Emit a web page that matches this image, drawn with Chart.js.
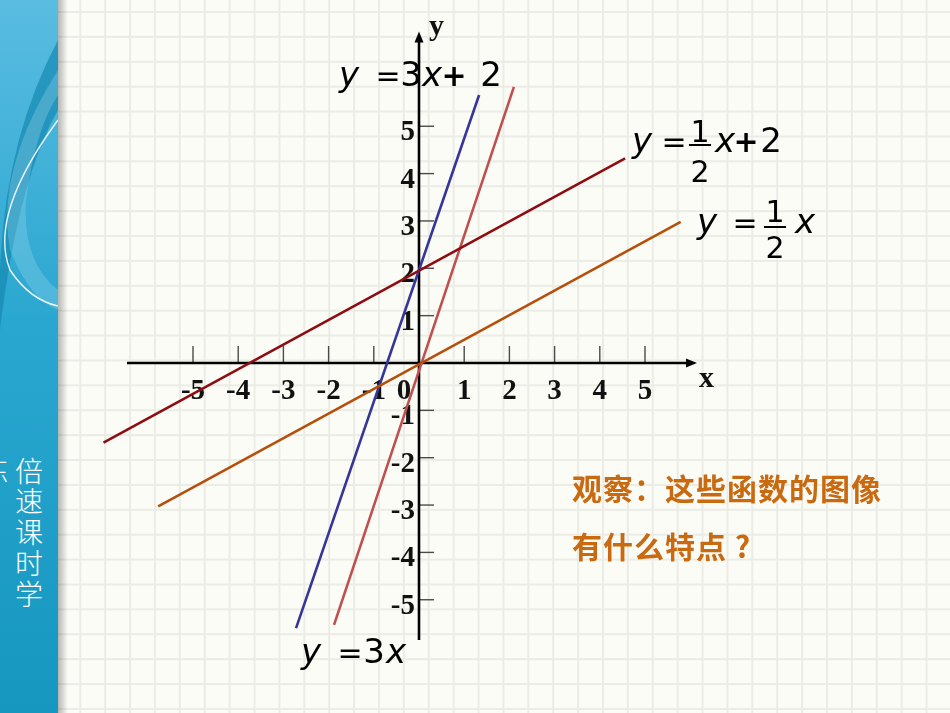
<!DOCTYPE html>
<html>
<head>
<meta charset="utf-8">
<script src="https://cdn.jsdelivr.net/npm/chart.js@4"></script>
<style>
  html, body { margin: 0; padding: 0; }
  body {
    width: 950px; height: 713px; overflow: hidden; position: relative;
    background-color: #fcfcf7;
    background-image:
      linear-gradient(to right, #ececE7 1.5px, transparent 1.5px),
      linear-gradient(to bottom, #ececE7 1.5px, transparent 1.5px);
    background-size: 24.9px 24.9px;
    background-position: 79.3px 11px;
  }
  #painel { position: absolute; left: 0; top: 0; }
  .vertical {
    position: absolute; writing-mode: vertical-rl; color: #fff;
    font-family: "Noto Sans CJK SC"; font-weight: 300; font-size: 28px;
    line-height: 30px; letter-spacing: 2.8px;
  }
  #grafico { position: absolute; left: 0; top: 0; }
  .pergunta {
    position: absolute; left: 572px; color: #ca6a10;
    font-family: "Noto Sans CJK SC"; font-weight: bold; font-size: 30px;
    line-height: 30px; white-space: nowrap; letter-spacing: 1px;
  }
</style>
</head>
<body>
<svg id="painel" width="70" height="713">
  <defs>
    <linearGradient id="gAzul" x1="0" y1="0" x2="0" y2="1">
      <stop offset="0" stop-color="#5abce1"/>
      <stop offset="0.45" stop-color="#2aa7d0"/>
      <stop offset="1" stop-color="#1597bf"/>
    </linearGradient>
    <linearGradient id="gSombra" x1="0" y1="0" x2="1" y2="0">
      <stop offset="0" stop-color="#000" stop-opacity="0.28"/>
      <stop offset="1" stop-color="#000" stop-opacity="0"/>
    </linearGradient>
  </defs>
  <rect x="0" y="0" width="58" height="713" fill="url(#gAzul)"/>
  <path d="M58 40 Q5 140 0 270 L0 330 Q18 180 58 110 Z" fill="#1689b2" opacity="0.7"/>
  <path d="M58 70 Q-5 170 10 250 Q30 300 58 310 L58 290 Q22 262 26 200 Q35 130 58 95 Z" fill="#9fd9ee" opacity="0.3"/>
  <path d="M58 120 Q-12 215 10 270 Q30 300 58 306" fill="none" stroke="#fff" stroke-width="1.4" opacity="0.9"/>
  <rect x="58" y="0" width="10" height="713" fill="url(#gSombra)"/>
</svg>
<div class="vertical" style="left:-21px; top:457px;">练</div>
<div class="vertical" style="left:14px; top:457px;">倍速课时学</div>

<canvas id="grafico" width="950" height="713"></canvas>

<div class="pergunta" style="top:472px;">观察：这些函数的图像</div>
<div class="pergunta" style="top:530px;">有什么特点 ?</div>

<script>
// --- DADOS ---
const xTicks = [-5, -4, -3, -2, -1, 1, 2, 3, 4, 5];
const yTicks = [-5, -4, -3, -2, -1, 1, 2, 3, 4, 5];

// endpoints (x, y in axis units)
const retaAzulX = [-2.72, 1.33];      // y = 3x + 2
const retaAzulY = [-5.60, 5.66];
const retaVermelhaX = [-1.88, 2.10];  // y = 3x
const retaVermelhaY = [-5.53, 5.83];
const retaEscuraX = [-6.98, 4.56];    // y = 1/2 x + 2
const retaEscuraY = [-1.68, 4.32];
const retaLaranjaX = [-5.77, 5.79];   // y = 1/2 x
const retaLaranjaY = [-3.03, 2.98];

// extent of the drawn axes
const eixoX = [-6.46, 6.15];
const eixoY = [-5.85, 7.0];

// --- ESCALA ---
const origemX = 419, origemY = 363;
const unidadeX = 45.2, unidadeY = 47.35;
const xMin = -7, xMax = 6.5, yMin = -6.5, yMax = 7;

function pontos(xs, ys) {
  return xs.map((v, i) => ({ x: v, y: ys[i] }));
}

function serie(xs, ys, cor) {
  return {
    data: pontos(xs, ys),
    showLine: true,
    borderColor: cor,
    borderWidth: 2.6,
    pointRadius: 0,
    fill: false
  };
}

// --- PLUGINS ---
const eixosPlugin = {
  id: 'eixos',
  beforeDatasetsDraw(chart) {
    const { ctx, scales: { x, y } } = chart;
    const ox = x.getPixelForValue(0);
    const oy = y.getPixelForValue(0);
    ctx.save();

    // tick marks
    ctx.strokeStyle = '#4a4a4a';
    ctx.lineWidth = 1.4;
    xTicks.forEach(v => {
      const px = x.getPixelForValue(v);
      ctx.beginPath(); ctx.moveTo(px, oy); ctx.lineTo(px, oy - 17); ctx.stroke();
    });
    yTicks.forEach(v => {
      const py = y.getPixelForValue(v);
      ctx.beginPath(); ctx.moveTo(ox, py); ctx.lineTo(ox + 15, py); ctx.stroke();
    });

    // axes
    ctx.strokeStyle = '#000';
    ctx.fillStyle = '#000';
    ctx.lineWidth = 2.6;
    const xa = x.getPixelForValue(eixoX[0]), xb = x.getPixelForValue(eixoX[1]);
    const ya = y.getPixelForValue(eixoY[0]), yb = y.getPixelForValue(eixoY[1]);
    ctx.beginPath(); ctx.moveTo(xa, oy); ctx.lineTo(xb - 8, oy); ctx.stroke();
    ctx.beginPath(); ctx.moveTo(ox, ya); ctx.lineTo(ox, yb + 8); ctx.stroke();
    ctx.beginPath(); ctx.moveTo(xb, oy); ctx.lineTo(xb - 11, oy - 4.5); ctx.lineTo(xb - 11, oy + 4.5); ctx.closePath(); ctx.fill();
    ctx.beginPath(); ctx.moveTo(ox, yb); ctx.lineTo(ox - 4.5, yb + 11); ctx.lineTo(ox + 4.5, yb + 11); ctx.closePath(); ctx.fill();

    // tick labels
    ctx.fillStyle = '#111';
    ctx.font = 'bold 29px "Liberation Serif"';
    ctx.textAlign = 'center';
    ctx.textBaseline = 'alphabetic';
    xTicks.forEach(v => {
      ctx.fillText(String(v), x.getPixelForValue(v), oy + 36);
    });
    ctx.fillText('0', ox - 15, oy + 36);
    ctx.textAlign = 'right';
    yTicks.forEach(v => {
      ctx.fillText(String(v), ox - 4, y.getPixelForValue(v) + 14);
    });

    // axis names
    ctx.textAlign = 'left';
    ctx.font = 'bold 30px "Liberation Serif"';
    ctx.fillText('x', 699, oy + 24);
    ctx.fillText('y', 429, 35);
    ctx.restore();
  }
};

// pieces: [text, center x, style]
function desenharPecas(ctx, pecas, base) {
  ctx.textAlign = 'center';
  pecas.forEach(([t, cx, estilo]) => {
    if (estilo === 'i') ctx.font = 'italic 34px "DejaVu Sans"';
    else if (estilo === 'b') ctx.font = 'bold 30px "DejaVu Sans"';
    else if (estilo === 'e') ctx.font = '30px "DejaVu Sans"';
    else ctx.font = '34px "DejaVu Sans"';
    ctx.fillText(t, cx, base);
  });
}

function desenharFracao(ctx, centro, baseNum, barra, baseDen) {
  ctx.font = '30px "DejaVu Sans"';
  ctx.textAlign = 'center';
  ctx.fillText('1', centro, baseNum);
  ctx.fillText('2', centro, baseDen);
  ctx.fillRect(centro - 11, barra - 1, 22, 2);
}

const equacoesPlugin = {
  id: 'equacoes',
  afterDatasetsDraw(chart) {
    const ctx = chart.ctx;
    ctx.save();
    ctx.fillStyle = '#000';
    ctx.textBaseline = 'alphabetic';

    desenharPecas(ctx, [['y', 349, 'i'], ['=', 388, 'e'], ['3', 411, ''], ['x', 432, 'i'], ['+', 454, 'b'], ['2', 491, '']], 86);

    desenharPecas(ctx, [['y', 642, 'i'], ['=', 674, 'e']], 152);
    desenharFracao(ctx, 700, 142, 145, 182);
    desenharPecas(ctx, [['x', 725, 'i'], ['+', 746, 'b'], ['2', 771, '']], 152);

    desenharPecas(ctx, [['y', 707, 'i'], ['=', 745, 'e']], 233);
    desenharFracao(ctx, 775, 222, 227, 258);
    desenharPecas(ctx, [['x', 805, 'i']], 233);

    desenharPecas(ctx, [['y', 311, 'i'], ['=', 350, 'e'], ['3', 374, ''], ['x', 396, 'i']], 663);
    ctx.restore();
  }
};

// --- GRÁFICO ---
const ctx = document.getElementById('grafico').getContext('2d');
new Chart(ctx, {
  type: 'scatter',
  data: {
    datasets: [
      serie(retaEscuraX, retaEscuraY, '#8c0d12'),
      serie(retaLaranjaX, retaLaranjaY, '#b5500c'),
      serie(retaAzulX, retaAzulY, '#35359a'),
      serie(retaVermelhaX, retaVermelhaY, '#c0504d')
    ]
  },
  options: {
    responsive: false,
    animation: false,
    layout: {
      padding: {
        left: origemX + xMin * unidadeX,
        right: 950 - (origemX + xMax * unidadeX),
        top: origemY - yMax * unidadeY,
        bottom: 713 - (origemY - yMin * unidadeY)
      }
    },
    scales: {
      x: { type: 'linear', min: xMin, max: xMax, display: false },
      y: { type: 'linear', min: yMin, max: yMax, display: false }
    },
    plugins: {
      legend: { display: false },
      tooltip: { enabled: false }
    }
  },
  plugins: [eixosPlugin, equacoesPlugin]
});
</script>
</body>
</html>
